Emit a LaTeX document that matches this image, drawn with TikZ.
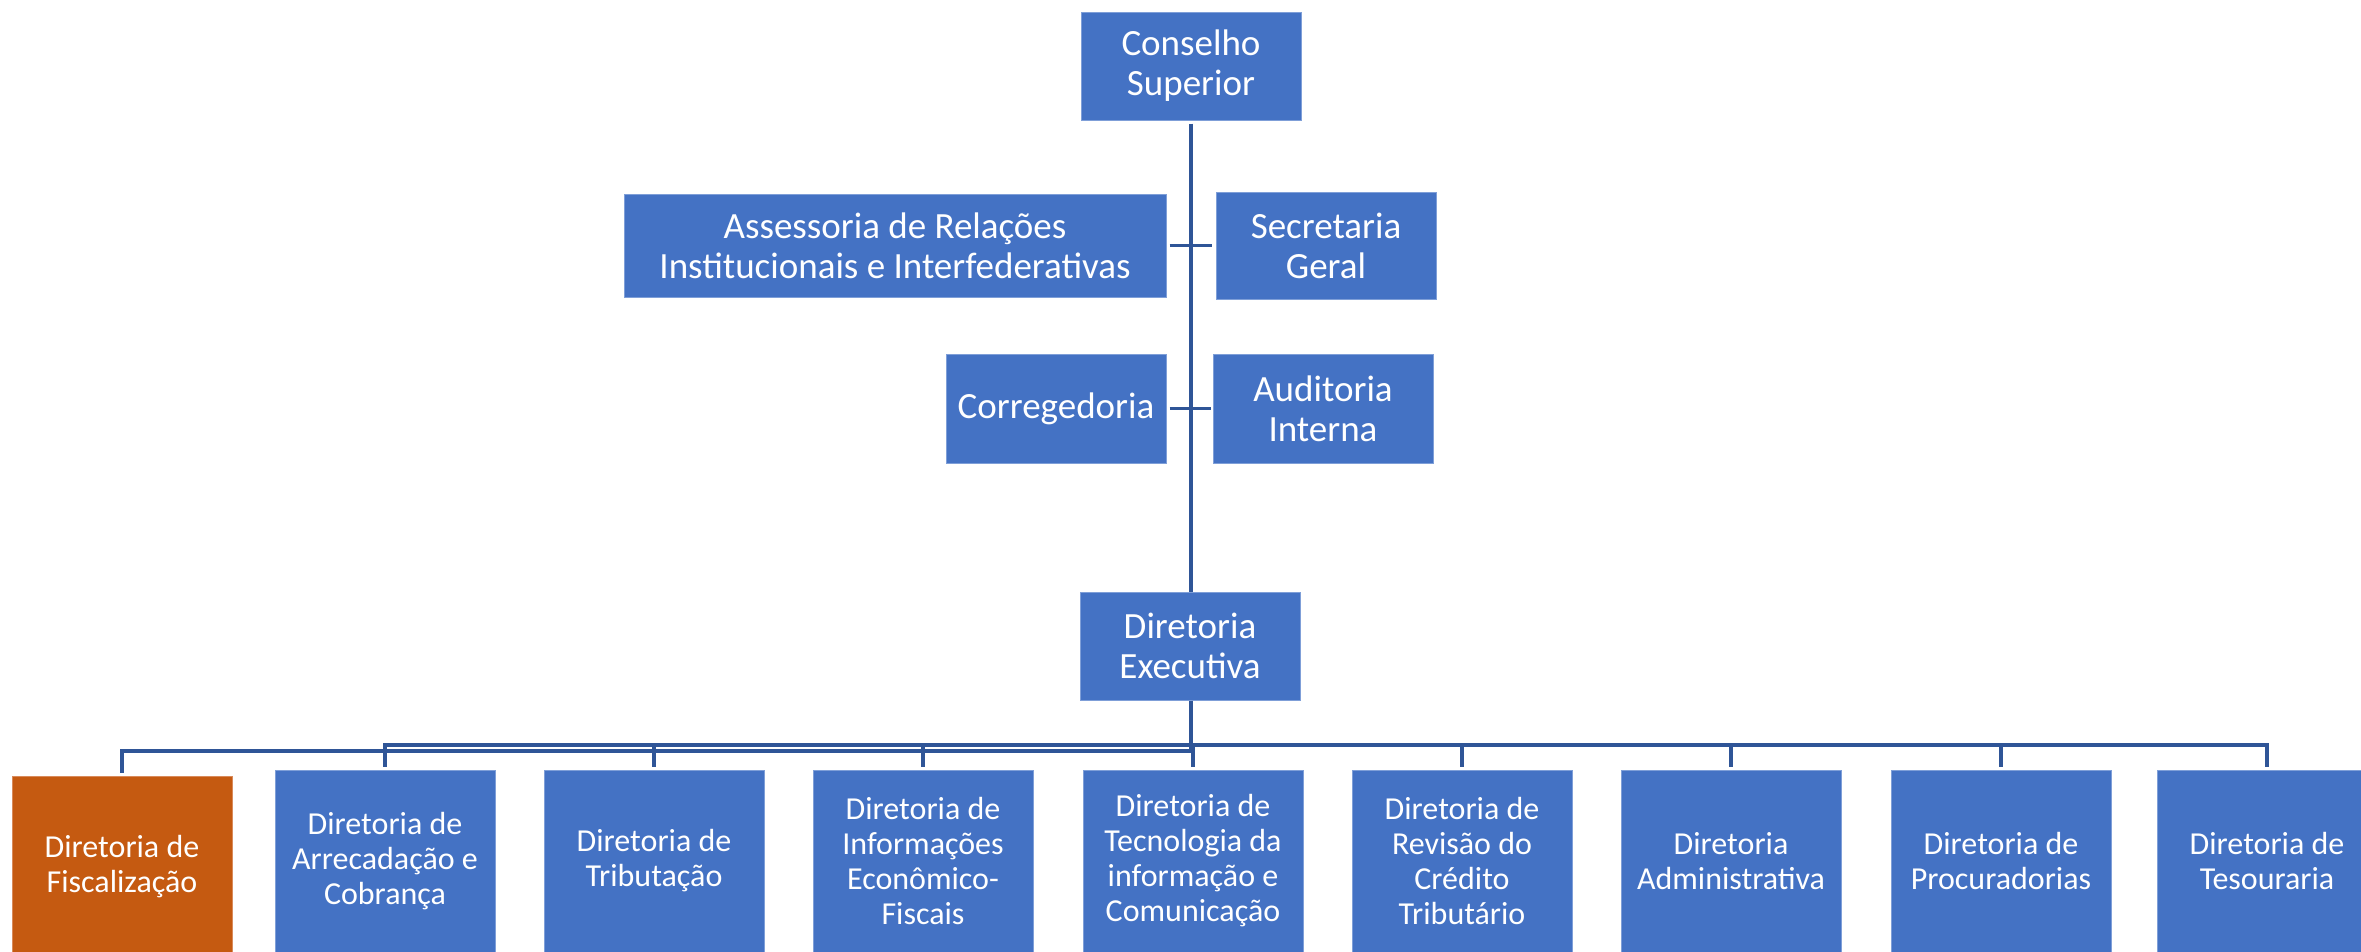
\documentclass[tikz,border=0pt]{standalone}
\usepackage{fontspec}
\setmainfont{Carlito}
\definecolor{boxblue}{HTML}{4472C4}
\definecolor{boxedge}{HTML}{7F9FD8}
\definecolor{boxorange}{HTML}{C55A11}
\definecolor{edgeorange}{HTML}{D98A5A}
\definecolor{linkblue}{HTML}{2F5597}
\tikzset{
  unit/.style={rectangle, fill=boxblue, draw=boxedge, line width=1pt, text=white,
    inner sep=0pt, align=center, minimum width=220pt},
  topunit/.style={unit, minimum height=108pt, font=\fontsize{37}{40}\selectfont},
  lowunit/.style={unit, minimum height=182pt, font=\fontsize{32}{35}\selectfont},
  hiunit/.style={lowunit, fill=boxorange, draw=edgeorange},
  conn/.style={draw=linkblue, line width=3.2pt},
}
\begin{document}
\begin{tikzpicture}[x=1pt,y=-1pt]
\clip (0,0) rectangle (2361,951);
\fill[white] (0,0) rectangle (2361,951);
% upper part
\node[topunit] (cs) at (1191,66) {Conselho\\Superior};
\node[topunit, minimum width=542pt, minimum height=103pt] (ass) at (895,245.5) {Assessoria de Relações\\Institucionais e Interfederativas};
\node[topunit, minimum height=107pt] (sec) at (1326,245.5) {Secretaria\\Geral};
\node[topunit, minimum height=109pt] (cor) at (1056,408.5) {Corregedoria};
\node[topunit, minimum height=109pt] (aud) at (1323,408.5) {Auditoria\\Interna};
\node[topunit] (de) at (1190,646) {Diretoria\\Executiva};
% lower row
\node[hiunit] (fis) at (122,867) {Diretoria de\\Fiscalização};
\node[lowunit] (arr) at (385,861) {Diretoria de\\Arrecadação e\\Cobrança};
\node[lowunit] (tri) at (654,861) {Diretoria de\\Tributação};
\node[lowunit] (inf) at (923,861) {Diretoria de\\Informações\\Econômico-\\Fiscais};
\node[lowunit] (tec) at (1193,861) {Diretoria de\\Tecnologia da\\informação e\\Comunicação};
\node[lowunit] (rev) at (1462,861) {Diretoria de\\Revisão do\\Crédito\\Tributário};
\node[lowunit] (adm) at (1731,861) {Diretoria\\Administrativa};
\node[lowunit] (pro) at (2001,861) {Diretoria de\\Procuradorias};
\node[lowunit] (tes) at (2267,861) {Diretoria de\\Tesouraria};
% junctions
\coordinate (busA) at (1191,745);
\coordinate (busB) at (1191,751);
% connectors
\draw[conn] ([yshift=-3pt]cs.south -| busA) -- (de.north -| busA);
\draw[conn] ([xshift=3pt]ass.east) -- ([xshift=-4pt]sec.west);
\draw[conn] ([xshift=3pt]cor.east) -- ([xshift=-2pt]aud.west);
\draw[conn] (de.south -| busA) -- (busB);
\draw[conn] (busB) -| ([yshift=3pt]fis.north);
\draw[conn] ([yshift=3pt]arr.north) |- (busA) -| ([yshift=3pt]tes.north);
\foreach \n in {tri,inf,tec,rev,adm,pro}
  \draw[conn] ([yshift=3pt]\n.north) -- (\n.north |- busA);
\end{tikzpicture}
\end{document}
